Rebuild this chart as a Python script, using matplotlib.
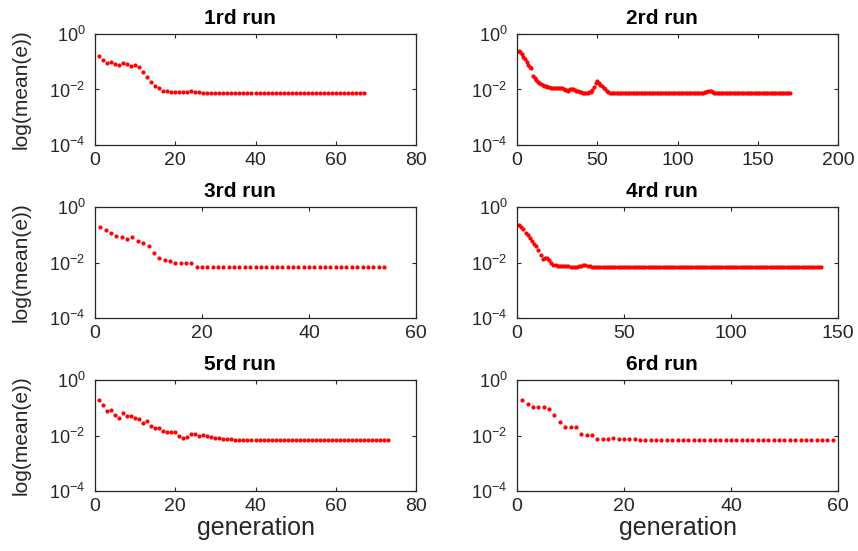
import numpy as np
import matplotlib
matplotlib.use('Agg')
import matplotlib.pyplot as plt
from matplotlib.ticker import NullLocator

plt.rcParams['font.family'] = ['Liberation Sans', 'DejaVu Sans']
plt.rcParams['mathtext.default'] = 'regular'

# log10(mean(e)) per generation
run1 = [-0.79, -0.94, -1.05, -1.02, -1.07, -1.11, -1.04, -1.08, -1.15, -1.10,
        -1.20, -1.38, -1.55, -1.73, -1.88, -1.93, -2.06, -2.06, -2.08, -2.09,
        -2.09, -2.10, -2.10, -2.07, -2.09, -2.10, -2.11, -2.11, -2.11, -2.12,
        -2.13, -2.13, -2.13, -2.13, -2.13, -2.13, -2.13, -2.13, -2.13, -2.13,
        -2.13, -2.13, -2.13, -2.13, -2.13, -2.13, -2.13, -2.13, -2.13, -2.13,
        -2.13, -2.13, -2.13, -2.13, -2.13, -2.13, -2.13, -2.13, -2.13, -2.13,
        -2.13, -2.13, -2.13, -2.13, -2.13, -2.13, -2.13]

run2 = [-0.60, -0.66, -0.72, -0.82, -0.90, -1.02, -1.10, -1.18, -1.24, -1.50,
        -1.58, -1.65, -1.72, -1.76, -1.80, -1.83, -1.86, -1.88, -1.90, -1.92,
        -1.94, -1.95, -1.95, -1.94, -1.94, -1.95, -1.95, -1.96, -1.99, -2.01,
        -2.03, -2.04, -2.00, -1.97, -2.00, -2.03, -2.05, -2.07, -2.09, -2.10,
        -2.11, -2.11, -2.11, -2.11, -2.10, -2.08, -2.02, -1.92, -1.78, -1.70,
        -1.78, -1.84, -1.88, -1.94, -2.00, -2.05, -2.09, -2.12, -2.13, -2.14,
        -2.14, -2.14, -2.14, -2.14, -2.14, -2.14, -2.14, -2.14, -2.14, -2.14,
        -2.14, -2.14, -2.14, -2.14, -2.14, -2.14, -2.14, -2.14, -2.14, -2.14,
        -2.14, -2.14, -2.14, -2.14, -2.14, -2.14, -2.14, -2.14, -2.14, -2.14,
        -2.14, -2.14, -2.14, -2.14, -2.14, -2.14, -2.14, -2.14, -2.14, -2.14,
        -2.14, -2.14, -2.14, -2.14, -2.14, -2.14, -2.14, -2.14, -2.14, -2.14,
        -2.14, -2.14, -2.14, -2.14, -2.14, -2.12, -2.10, -2.08, -2.06, -2.05,
        -2.07, -2.09, -2.11, -2.13, -2.14, -2.14, -2.14, -2.14, -2.14, -2.14,
        -2.14, -2.14, -2.14, -2.14, -2.14, -2.14, -2.14, -2.14, -2.14, -2.14,
        -2.14, -2.14, -2.14, -2.14, -2.14, -2.14, -2.14, -2.14, -2.14, -2.14,
        -2.14, -2.14, -2.14, -2.14, -2.14, -2.14, -2.14, -2.14, -2.14, -2.14,
        -2.14, -2.14, -2.14, -2.14, -2.14, -2.14, -2.14, -2.14, -2.14, -2.14]

run3 = [-0.72, -0.84, -0.95, -1.04, -1.08, -1.14, -1.08, -1.22, -1.31, -1.42,
        -1.64, -1.83, -1.92, -1.96, -2.01, -2.01, -2.01, -2.01, -2.17, -2.17,
        -2.17, -2.17, -2.17, -2.17, -2.17, -2.17, -2.17, -2.17, -2.17, -2.17,
        -2.17, -2.17, -2.17, -2.17, -2.17, -2.17, -2.17, -2.17, -2.17, -2.17,
        -2.17, -2.17, -2.17, -2.17, -2.17, -2.17, -2.17, -2.17, -2.17, -2.17,
        -2.17, -2.17, -2.17, -2.17]

run4 = [-0.64, -0.72, -0.80, -0.92, -1.02, -1.12, -1.22, -1.32, -1.42, -1.55,
        -1.72, -1.86, -1.84, -1.82, -1.90, -2.02, -2.08, -2.10, -2.11, -2.12,
        -2.13, -2.13, -2.14, -2.14, -2.15, -2.15, -2.15, -2.15, -2.14, -2.12,
        -2.10, -2.09, -2.11, -2.14, -2.16, -2.17, -2.17, -2.17, -2.17, -2.17,
        -2.17, -2.17, -2.17, -2.17, -2.17, -2.17, -2.17, -2.17, -2.17, -2.17,
        -2.17, -2.17, -2.17, -2.17, -2.17, -2.17, -2.17, -2.17, -2.17, -2.17,
        -2.17, -2.17, -2.17, -2.17, -2.17, -2.17, -2.17, -2.17, -2.17, -2.17,
        -2.17, -2.17, -2.17, -2.17, -2.17, -2.17, -2.17, -2.17, -2.17, -2.17,
        -2.16, -2.15, -2.16, -2.17, -2.17, -2.17, -2.17, -2.17, -2.17, -2.17,
        -2.17, -2.17, -2.17, -2.16, -2.15, -2.16, -2.17, -2.17, -2.17, -2.17,
        -2.17, -2.17, -2.17, -2.17, -2.17, -2.17, -2.17, -2.17, -2.17, -2.17,
        -2.17, -2.17, -2.17, -2.17, -2.17, -2.17, -2.17, -2.17, -2.17, -2.17,
        -2.17, -2.17, -2.17, -2.17, -2.17, -2.17, -2.17, -2.17, -2.17, -2.17,
        -2.17, -2.17, -2.17, -2.17, -2.17, -2.17, -2.17, -2.17, -2.17, -2.17,
        -2.17, -2.17]

run5 = [-0.73, -0.89, -1.12, -1.08, -1.26, -1.37, -1.18, -1.29, -1.29, -1.36,
        -1.40, -1.56, -1.48, -1.67, -1.73, -1.73, -1.82, -1.87, -1.89, -1.88,
        -2.01, -2.10, -2.05, -1.94, -1.94, -2.01, -1.99, -2.01, -2.06, -2.10,
        -2.10, -2.13, -2.13, -2.14, -2.15, -2.15, -2.15, -2.15, -2.15, -2.15,
        -2.15, -2.15, -2.15, -2.15, -2.15, -2.15, -2.15, -2.15, -2.15, -2.15,
        -2.15, -2.15, -2.15, -2.15, -2.15, -2.15, -2.15, -2.15, -2.15, -2.15,
        -2.15, -2.15, -2.15, -2.15, -2.15, -2.15, -2.15, -2.15, -2.15, -2.15,
        -2.15, -2.15, -2.15]

run6 = [-0.71, -0.87, -0.97, -0.97, -0.99, -1.05, -1.27, -1.50, -1.68, -1.71,
        -1.71, -1.93, -1.99, -1.99, -2.13, -2.13, -2.11, -2.10, -2.11, -2.12,
        -2.13, -2.14, -2.15, -2.15, -2.15, -2.15, -2.15, -2.15, -2.15, -2.15,
        -2.15, -2.15, -2.15, -2.15, -2.15, -2.15, -2.15, -2.15, -2.15, -2.15,
        -2.15, -2.15, -2.15, -2.15, -2.15, -2.15, -2.15, -2.15, -2.15, -2.15,
        -2.15, -2.15, -2.15, -2.15, -2.15, -2.15, -2.15, -2.15, -2.15]

runs = [run1, run2, run3, run4, run5, run6]
titles = ['1rd run', '2rd run', '3rd run', '4rd run', '5rd run', '6rd run']
xmax = [80, 200, 60, 150, 80, 60]
xstep = [20, 50, 20, 50, 20, 20]

W, H = 858, 551
fig = plt.figure(figsize=(W / 100, H / 100), dpi=100)

# axes boxes in pixels
lefts = [95, 517]
widths = [321, 321]
tops = [34, 207, 380]
ax_h = 111
dark = '#262626'

for i, (run, title) in enumerate(zip(runs, titles)):
    r, c = divmod(i, 2)
    ax = fig.add_axes([lefts[c] / W, 1 - (tops[r] + ax_h) / H,
                       widths[c] / W, ax_h / H])
    gen = np.arange(1, len(run) + 1)
    ax.semilogy(gen, 10.0 ** np.array(run), 'o', color='red', ms=3.0,
                mec='none')
    ax.set_xlim(0, xmax[i])
    ax.set_ylim(1e-4, 1)
    ax.set_xticks(np.arange(0, xmax[i] + 1, xstep[i]))
    ax.set_yticks([1e-4, 1e-2, 1])
    ax.yaxis.set_minor_locator(NullLocator())
    ax.tick_params(direction='in', top=True, right=True, length=3,
                   width=0.8, colors=dark)
    ax.tick_params(axis='y', pad=7, labelsize=13)
    ax.tick_params(axis='x', pad=5, labelsize=14)
    for s in ax.spines.values():
        s.set_color(dark)
        s.set_linewidth(0.9)
    ax.set_title(title, fontweight='bold', fontsize=15, x=0.45, pad=7)
    if c == 0:
        ax.set_ylabel('log(mean(e))', fontsize=15, color=dark)
        ax.yaxis.set_label_coords(-0.2, 0.5)
    if r == 2:
        ax.set_xlabel('generation', fontsize=18, color=dark, labelpad=1)

fig.savefig('out.png', dpi=100)
